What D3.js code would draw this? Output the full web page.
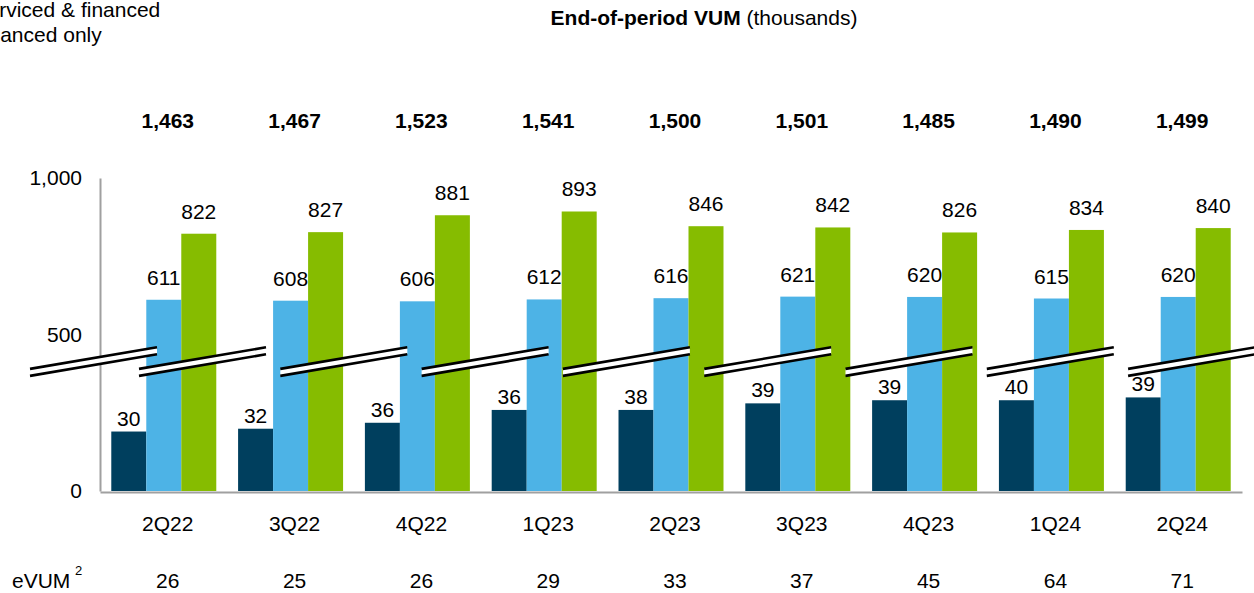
<!DOCTYPE html>
<html><head><meta charset="utf-8">
<script src="https://cdn.jsdelivr.net/npm/d3@7"></script>
<style>
body{margin:0;background:#fff;overflow:hidden}
svg{display:block}
text{font-family:"Liberation Sans",Arial,Helvetica,sans-serif;fill:#000}
</style>
</head><body>
<svg id="chart" width="1254" height="593"></svg>
<script>
// ---- data ----
const categories = ["2Q22","3Q22","4Q22","1Q23","2Q23","3Q23","4Q23","1Q24","2Q24"];
const servicedOnly = [30,32,36,36,38,39,39,40,39];                 // label values
const servicedOnlyDrawn = [190,199,218,259,259,280,290,290,299];   // bar extent as read against the (broken) axis
const servicedFinanced = [611,608,606,612,616,621,620,615,620];
const financedOnly = [822,827,881,893,846,842,826,834,840];
const totals = [1463,1467,1523,1541,1500,1501,1485,1490,1499];
const eVUM = [26,25,26,29,33,37,45,64,71];
const yTicks = [0,500,1000];
const legendLabels = ["Serviced & financed","Financed only"];
const colors = {dark:"#003f5e", blue:"#4db3e6", green:"#86bc00"};

// ---- layout ----
const svg = d3.select("#chart");
const fs = 21;
const x = d3.scaleBand().domain(categories).range([100,1242]).paddingInner(0.172).paddingOuter(0.089);
const inner = d3.scaleBand().domain([0,1,2]).range([0,x.bandwidth()]);
const y = d3.scaleLinear().domain([0,1000]).range([491,178]);
const fmt = d3.format(",");
const labelShift = 4;

// bars
const series = [
  {key:0, fill:colors.dark, bar:servicedOnlyDrawn, label:servicedOnly, gap:6},
  {key:1, fill:colors.blue, bar:servicedFinanced, label:servicedFinanced, gap:15},
  {key:2, fill:colors.green, bar:financedOnly, label:financedOnly, gap:15}
];
const gBars = svg.append("g");
series.forEach(s=>{
  gBars.selectAll(null).data(categories).join("rect")
    .attr("x", (c)=>x(c)+inner(s.key))
    .attr("width", inner.bandwidth())
    .attr("y", (c,i)=>y(s.bar[i]))
    .attr("height", (c,i)=>y(0)-y(s.bar[i]))
    .attr("fill", s.fill);
});

// axes
const yAxis = svg.append("g").attr("transform","translate(100,0)")
  .call(d3.axisLeft(y).tickValues(yTicks).tickSize(0).tickSizeOuter(0).tickPadding(18).tickFormat(fmt));
yAxis.select(".domain").attr("stroke","#a0a0a0").attr("stroke-width",2);
yAxis.selectAll("text").attr("font-size",fs).attr("font-family","Liberation Sans, Arial, sans-serif").attr("fill","#000");

const xAxis = svg.append("g").attr("transform","translate(0,"+(y(0)+1)+")")
  .call(d3.axisBottom(x).tickSize(0).tickSizeOuter(0).tickPadding(24));
xAxis.select(".domain").attr("stroke","#a0a0a0").attr("stroke-width",2);
xAxis.selectAll("text").attr("font-size",fs).attr("dx",labelShift).attr("font-family","Liberation Sans, Arial, sans-serif").attr("fill","#000");

// axis break marks
const breakLen = 127, breakHalf = 3.5;
const breakStarts = [30].concat(d3.range(8).map(i=>139 + i*141.3));
const yL = y(379), yR = y(448);
const gBreak = svg.append("g");
breakStarts.forEach(x0=>{
  const x1 = x0 + breakLen;
  gBreak.append("path")
    .attr("d", `M${x0},${yL-breakHalf}L${x1},${yR-breakHalf}L${x1},${yR+breakHalf}L${x0},${yL+breakHalf}Z`)
    .attr("fill","#fff");
  [-breakHalf, breakHalf].forEach(o=>{
    gBreak.append("line")
      .attr("x1",x0).attr("y1",yL+o).attr("x2",x1).attr("y2",yR+o)
      .attr("stroke","#000").attr("stroke-width",2.6);
  });
});

// value labels
series.forEach(s=>{
  svg.append("g").selectAll("text").data(categories).join("text")
    .attr("x",(c)=>x(c)+inner(s.key)+inner.bandwidth()/2)
    .attr("y",(c,i)=>y(s.bar[i]) - s.gap)
    .attr("text-anchor","middle").attr("font-size",fs)
    .text((c,i)=>s.label[i]);
});

// totals
svg.append("g").selectAll("text").data(categories).join("text")
  .attr("x",(c)=>x(c)+x.bandwidth()/2+labelShift)
  .attr("y",128)
  .attr("text-anchor","middle").attr("font-size",fs).attr("font-weight","bold")
  .text((c,i)=>fmt(totals[i]));

// eVUM row
svg.append("g").selectAll("text").data(categories).join("text")
  .attr("x",(c)=>x(c)+x.bandwidth()/2+labelShift)
  .attr("y",588)
  .attr("text-anchor","middle").attr("font-size",fs)
  .text((c,i)=>eVUM[i]);
const ev = svg.append("text").attr("x",12).attr("y",588).attr("font-size",fs);
ev.append("tspan").text("eVUM");
svg.append("text").attr("x",75).attr("y",575).attr("font-size",13).text("2");

// title
const t = svg.append("text").attr("x",704).attr("y",25).attr("text-anchor","middle").attr("font-size",fs);
t.append("tspan").attr("font-weight","bold").text("End-of-period VUM");
t.append("tspan").text(" (thousands)");

// legend (partly outside the view on the left, as in the source)
const legendX = [-26.5, -29];
legendLabels.forEach((l,i)=>{
  svg.append("text").attr("x",legendX[i]).attr("y",17+25*i).attr("font-size",fs).text(l);
});
</script>
</body></html>
